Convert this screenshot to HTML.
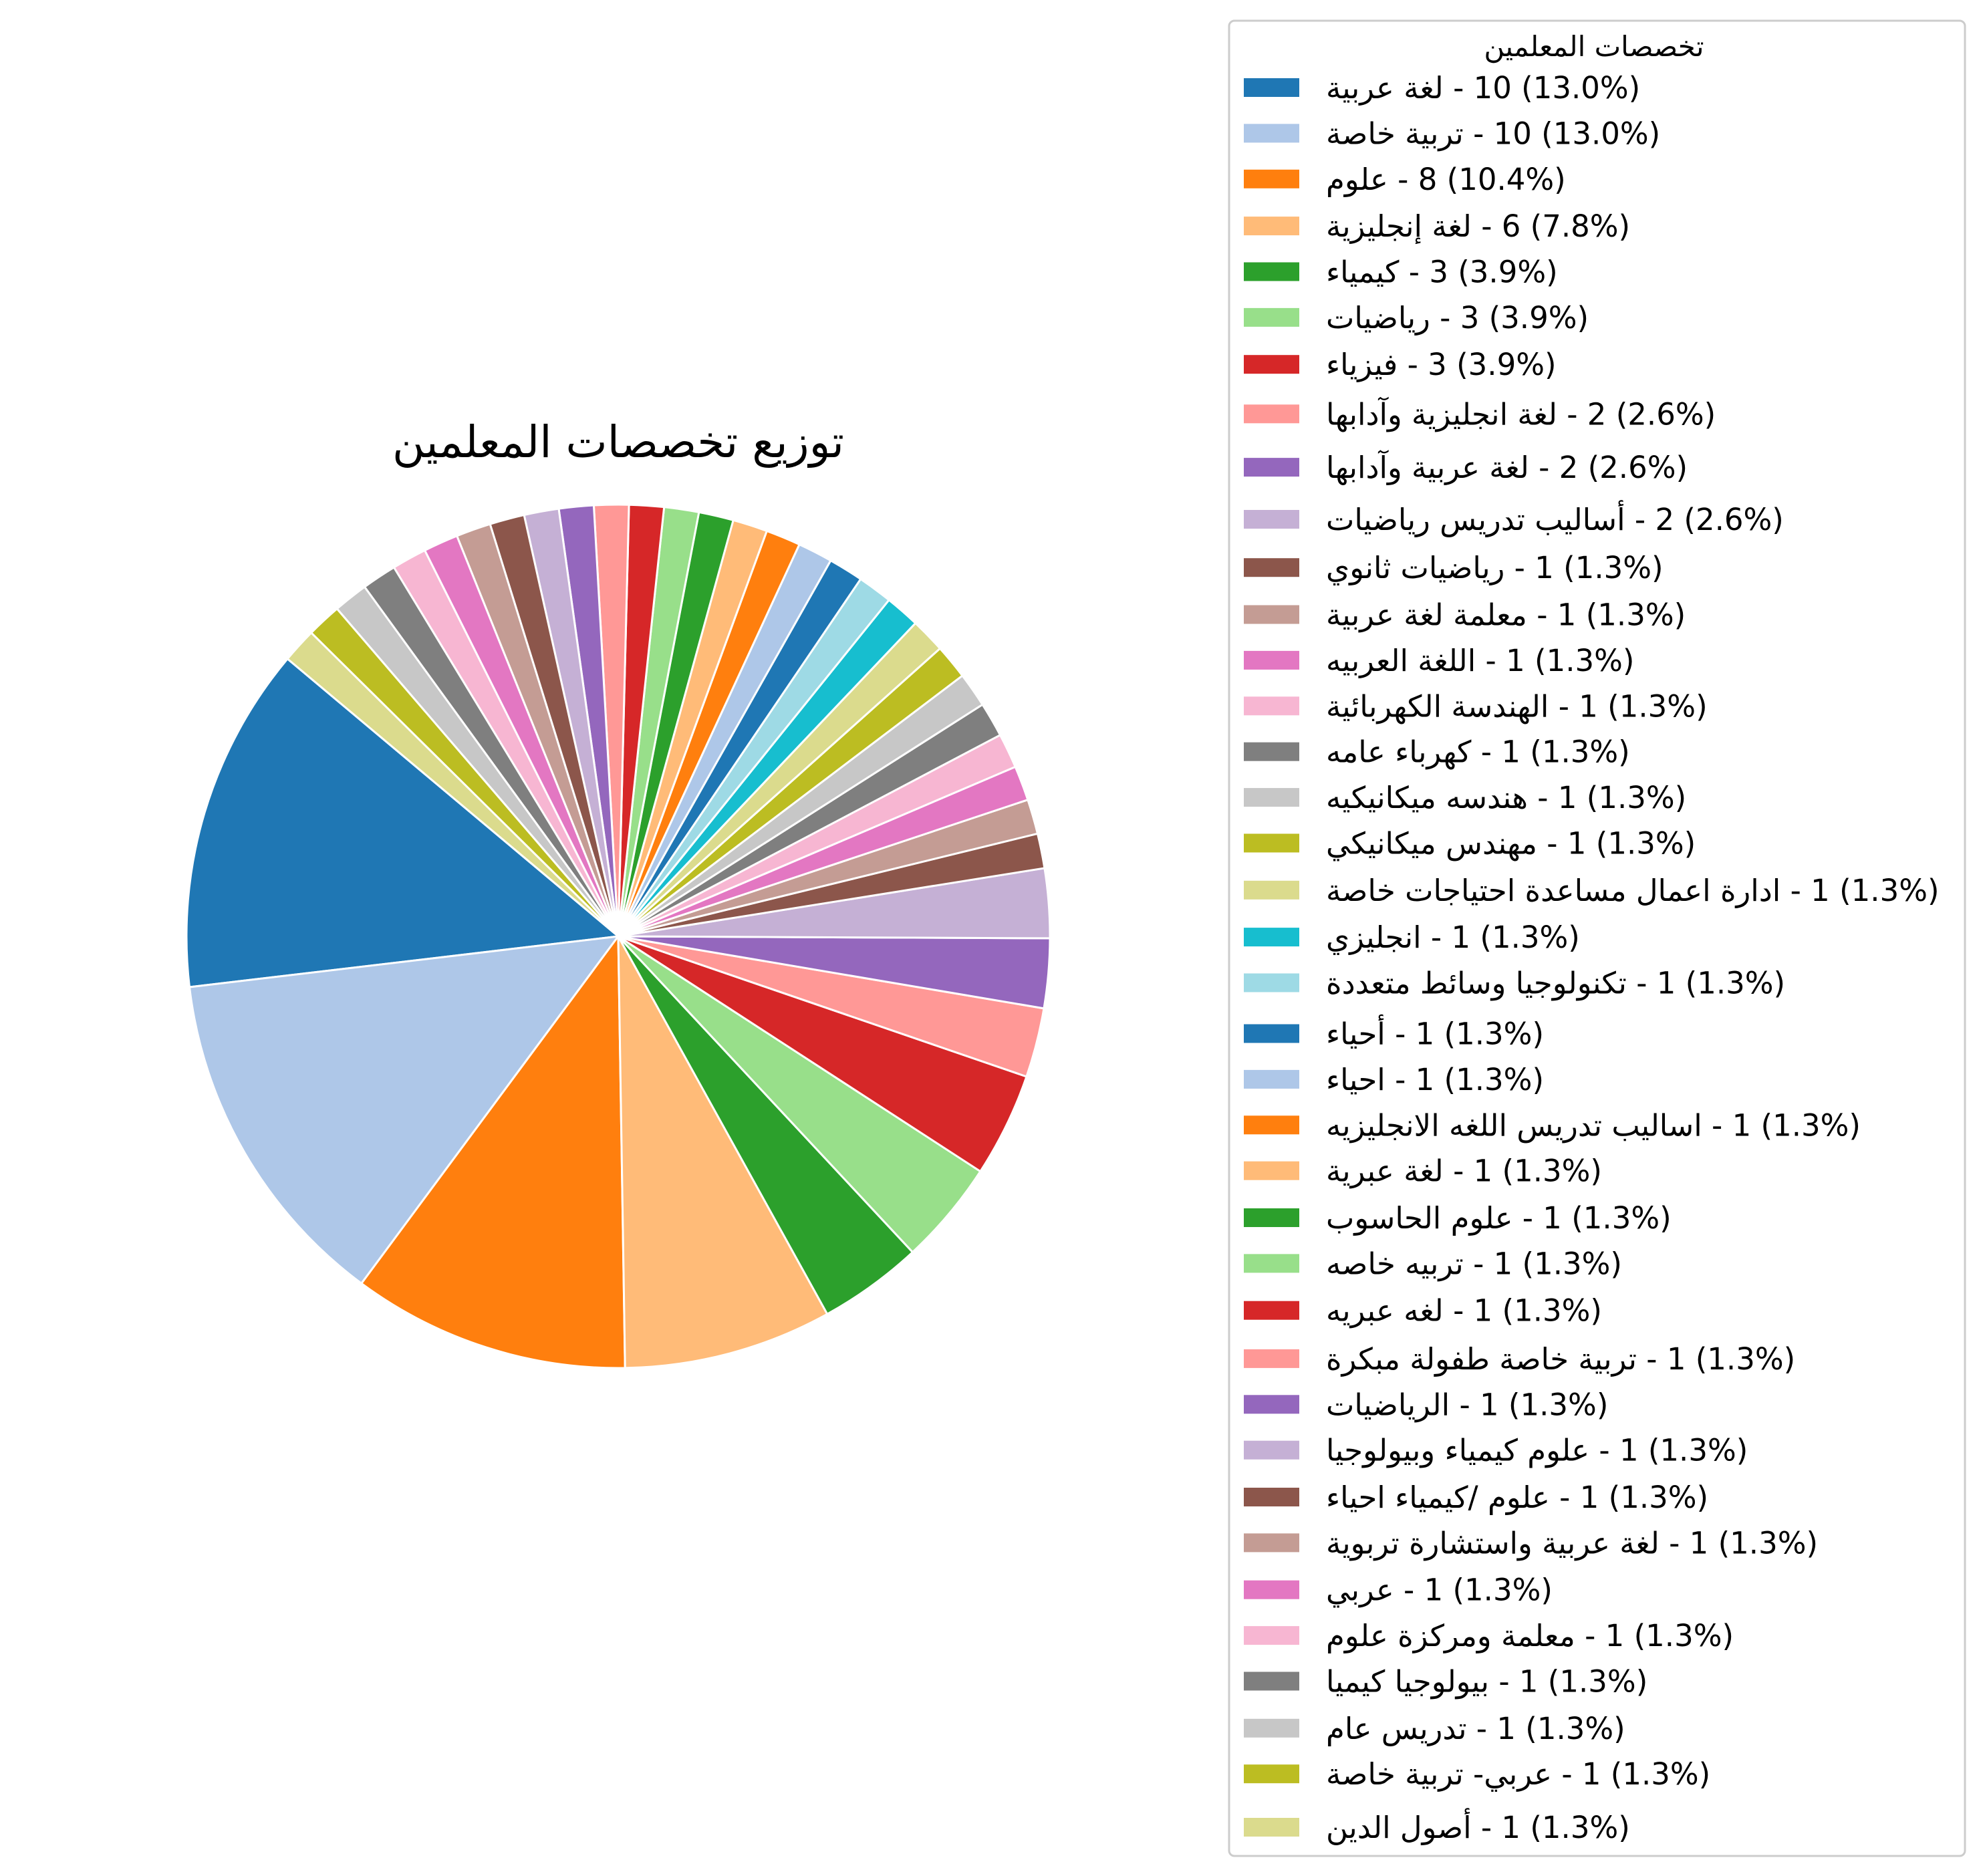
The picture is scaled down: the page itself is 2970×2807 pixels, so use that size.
<!DOCTYPE html>
<html><head><meta charset="utf-8">
<style>
html,body{margin:0;padding:0;background:#fff;}
svg text{font-family:"DejaVu Sans","Liberation Sans","Noto Sans CJK SC",sans-serif;}
</style></head>
<body>
<svg id="chart" width="2970" height="2802" viewBox="0 0 2970 2802" xmlns="http://www.w3.org/2000/svg">
<rect width="2970" height="2802" fill="#fff"/>
<text x="925" y="684" font-size="66" text-anchor="middle">توزيع تخصصات المعلمين</text>
<g id="slices"></g>
<rect x="1839" y="31" width="1101" height="2746" rx="8" fill="#fff" stroke="#cccccc" stroke-width="3"/>
<text x="2385" y="84" font-size="42" text-anchor="middle">تخصصات المعلمين</text>
<g id="legend"></g>
</svg>
<script>
const categories = ["لغة عربية","تربية خاصة","علوم","لغة إنجليزية","كيمياء","رياضيات","فيزياء","لغة انجليزية وآدابها","لغة عربية وآدابها","أساليب تدريس رياضيات","رياضيات ثانوي","معلمة لغة عربية","اللغة العربيه","الهندسة الكهربائية","كهرباء عامه","هندسه ميكانيكيه","مهندس ميكانيكي","ادارة اعمال مساعدة احتياجات خاصة","انجليزي","تكنولوجيا وسائط متعددة","أحياء","احياء","اساليب تدريس اللغه الانجليزيه","لغة عبرية","علوم الحاسوب","تربيه خاصه","لغه عبريه","تربية خاصة طفولة مبكرة","الرياضيات","علوم كيمياء وبيولوجيا","علوم /كيمياء احياء","لغة عربية واستشارة تربوية","عربي","معلمة ومركزة علوم","بيولوجيا كيميا","تدريس عام","عربي- تربية خاصة","أصول الدين"];
const counts = [10,10,8,6,3,3,3,2,2,2,1,1,1,1,1,1,1,1,1,1,1,1,1,1,1,1,1,1,1,1,1,1,1,1,1,1,1,1];
const palette = ["#1f77b4","#aec7e8","#ff7f0e","#ffbb78","#2ca02c","#98df8a","#d62728","#ff9896","#9467bd","#c5b0d5","#8c564b","#c49c94","#e377c2","#f7b6d2","#7f7f7f","#c7c7c7","#bcbd22","#dbdb8d","#17becf","#9edae5"];
const legendRowY = [70,106,142,179,215,251,288,327,369,410,448,485,521,557,593,629,665,702,739,775,815,851,887,923,960,996,1033,1071,1107,1143,1180,1216,1253,1289,1325,1362,1398,1440];

const NS = "http://www.w3.org/2000/svg";
const cx = 925, cy = 1401, R = 646, startAngle = 140;
const total = counts.reduce((a,b)=>a+b,0);
const sg = document.getElementById('slices');
const lg = document.getElementById('legend');
function pt(deg){const r=deg*Math.PI/180;return [cx+R*Math.cos(r), cy-R*Math.sin(r)];}
let a = startAngle;
counts.forEach((v,i)=>{
  const sweep = v/total*360;
  const a2 = a + sweep;
  const p1 = pt(a), p2 = pt(a2);
  const large = sweep>180?1:0;
  const path = document.createElementNS(NS,'path');
  path.setAttribute('d',`M${cx},${cy} L${p1[0]},${p1[1]} A${R},${R} 0 ${large} 0 ${p2[0]},${p2[1]} Z`);
  path.setAttribute('fill',palette[i%20]);
  path.setAttribute('stroke','#fff');
  path.setAttribute('stroke-width','3');
  
  
  sg.appendChild(path);
  a = a2;

  const yc = legendRowY[i]*1.9 - 2;
  const r = document.createElementNS(NS,'rect');
  r.setAttribute('x',1861); r.setAttribute('y',yc-14);
  r.setAttribute('width',83); r.setAttribute('height',28);
  r.setAttribute('fill',palette[i%20]);
  
  
  lg.appendChild(r);
  const t = document.createElementNS(NS,'text');
  t.setAttribute('x',1984); t.setAttribute('y',yc+16);
  t.setAttribute('font-size','45');
  t.setAttribute('direction','ltr');
  t.textContent = `\u200E${categories[i]}\u200E - ${v} (${(v/total*100).toFixed(1)}%)`;
  
  
  lg.appendChild(t);
});
</script>
</body></html>
